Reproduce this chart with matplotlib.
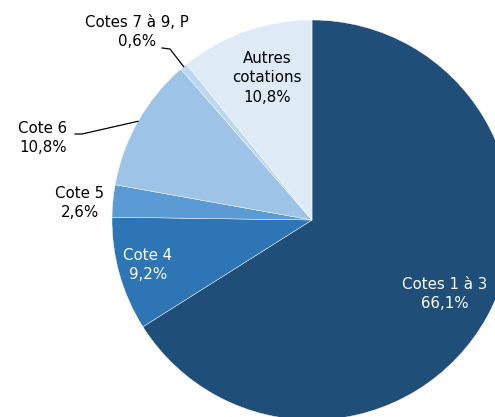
import numpy as np
import matplotlib
matplotlib.use("Agg")
import matplotlib.pyplot as plt

labels = ['Cotes 1 à 3', 'Cote 4', 'Cote 5', 'Cote 6', 'Cotes 7 à 9, P', 'Autres\ncotations']
values = [66.1, 9.2, 2.6, 10.8, 0.6, 10.8]
pct_text = ['66,1%', '9,2%', '2,6%', '10,8%', '0,6%', '10,8%']
colors = ['#1F4E79', '#2E75B6', '#5B9BD5', '#9DC3E6', '#BDD7EE', '#DEEBF7']
text_colors = ['white', 'white', 'black', 'black', 'black', 'black']

# label positions in pixels (x, y from top), centre of pie at (312, 220), r = 200
label_px = [(445, 294), (148, 265), (80, 203), (43, 138), (137, 32), (267, 78)]

plt.rcParams['font.family'] = ['DejaVu Sans']

fig = plt.figure(figsize=(4.95, 4.17), dpi=100)
ax = fig.add_axes([0, 0, 1, 1])
cx, cy, R = 312, 220, 200.0

def to_data(px, py):
    return (px - cx) / R, (cy - py) / R

wedges, _ = ax.pie(values, colors=colors, startangle=90, counterclock=False,
                   radius=1.0, wedgeprops=dict(edgecolor='white', linewidth=0.3))

for i, w in enumerate(wedges):
    x, y = to_data(*label_px[i])
    ax.text(x, y, labels[i] + '\n' + pct_text[i], ha='center', va='center',
            fontsize=10.8, color=text_colors[i], linespacing=1.4)

# leader lines for Cote 6 and Cotes 7 à 9, P
leaders = {3: [(75, 134), (82, 134)], 4: [(162, 48), (170, 49)]}
for i, pts in leaders.items():
    w = wedges[i]
    ang = np.deg2rad((w.theta1 + w.theta2) / 2)
    ex, ey = np.cos(ang), np.sin(ang)
    xs = [to_data(*p)[0] for p in pts] + [ex]
    ys = [to_data(*p)[1] for p in pts] + [ey]
    ax.plot(xs, ys, color='black', linewidth=0.9)

ax.set_xlim(-cx / R, (495 - cx) / R)
ax.set_ylim(-(417 - cy) / R, cy / R)
ax.set_aspect('equal')
ax.axis('off')

fig.savefig('out.png', dpi=100)
